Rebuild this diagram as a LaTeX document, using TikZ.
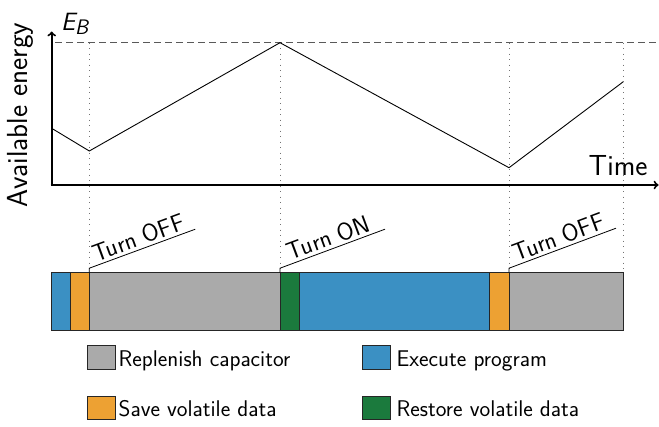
\documentclass[tikz,border=0pt]{standalone}
\begin{document}
\begin{tikzpicture}[x=1pt,y=-1pt,font=\sffamily]
\definecolor{replc}{HTML}{AAAAAA}
\definecolor{execc}{HTML}{3B90C3}
\definecolor{savec}{HTML}{EDA133}
\definecolor{restc}{HTML}{1B7A3D}
\tikzset{
  axisline/.style={line width=2pt,->},
  guide/.style={draw=black!55,line width=0.9pt,dash pattern=on 1.1pt off 4.4pt},
  maxline/.style={draw=black!65,line width=0.9pt,dash pattern=on 7pt off 4pt},
  energy/.style={line width=0.9pt},
  seg/.style={draw=black!85,line width=0.8pt},
  labline/.style={line width=0.8pt},
  turnlabel/.style={sloped,above,inner sep=2.5pt,font=\sffamily\fontsize{24.5}{26}\selectfont},
  legbox/.style={draw=black!85,line width=0.8pt,minimum width=28pt,minimum height=23.5pt,inner sep=0pt},
  legtext/.style={anchor=base west,inner sep=0pt,font=\sffamily\fontsize{22.7}{25}\selectfont},
  bigtext/.style={inner sep=0pt,font=\sffamily\fontsize{29}{31}\selectfont}
}
\useasboundingbox (0,0) rectangle (659,426);

% axes
\coordinate (origin) at (51.7,185);
\coordinate (ytop) at (51.7,31.5);
\coordinate (xend) at (658.5,185);
\draw[axisline] (origin) -- (ytop);
\draw[axisline] ([xshift=-1pt]origin) -- (xend);
\node[bigtext,rotate=90,anchor=base] (ylab) at (27.5,115) {Available energy};
\node[bigtext,anchor=base west] (xlab) at (588.5,175) {Time};
\node[anchor=base west,inner sep=0pt] (eb) at (61,30.5)
  {\fontsize{25}{27}\selectfont\slshape E\raisebox{-3.5pt}{\fontsize{21}{22}\selectfont B}};

% maximum level
\coordinate (m0) at (55,42.7);
\coordinate (m1) at (659,42.7);
\draw[maxline] (m0) -- (m1);

% energy curve
\coordinate (e0) at (51.7,128.3);
\coordinate (e1) at (89.3,151);
\coordinate (e2) at (280,42.7);
\coordinate (e3) at (509,167.7);
\coordinate (e4) at (623.3,81.7);
\draw[energy] (e0) -- (e1) -- (e2) -- (e3) -- (e4);

% bar coordinates (top)
\coordinate (b1) at (89.3,272.7);
\coordinate (b2) at (280,272.7);
\coordinate (b3) at (509,272.7);
\coordinate (b4) at (623.3,272.7);

% guides
\draw[guide] (89.3,42.7) -- (b1);
\draw[guide] (280,42.7) -- (b2);
\draw[guide] (509,42.7) -- (b3);
\draw[guide] (623.3,42.7) -- (b4);

% bar
\draw[seg,fill=execc] (51,272.7) rectangle (70,330);
\draw[seg,fill=savec] (70,272.7) rectangle (89.3,330);
\draw[seg,fill=replc] (89.3,272.7) rectangle (280,330);
\draw[seg,fill=restc] (280,272.7) rectangle (299,330);
\draw[seg,fill=execc] (299,272.7) rectangle (489.5,330);
\draw[seg,fill=savec] (489.5,272.7) rectangle (509,330);
\draw[seg,fill=replc] (509,272.7) rectangle (623.3,330);

% event labels
\draw[labline] (b1) -- ++(0,-4.5) coordinate (c1) -- node[turnlabel,pos=0.5] {Turn OFF} ++(106,-39) coordinate (d1);
\draw[labline] (b2) -- ++(0,-4.5) coordinate (c2) -- node[turnlabel,pos=0.5] {Turn ON} ++(105,-39) coordinate (d2);
\draw[labline] (b3) -- ++(0,-4.5) coordinate (c3) -- node[turnlabel,pos=0.5] {Turn OFF} ++(107,-40) coordinate (d3);

% legend
\node[legbox,fill=replc] (lg1) at (101,357.5) {};
\node[legtext] (lt1) at (118.5,366) {Replenish capacitor};
\node[legbox,fill=execc] (lg2) at (376,357.5) {};
\node[legtext] (lt2) at (396.5,366) {Execute program};
\node[legbox,fill=savec] (lg3) at (101,408) {};
\node[legtext] (lt3) at (118.5,416.5) {Save volatile data};
\node[legbox,fill=restc] (lg4) at (376,408) {};
\node[legtext] (lt4) at (396.5,416.5) {Restore volatile data};
\end{tikzpicture}
\end{document}
